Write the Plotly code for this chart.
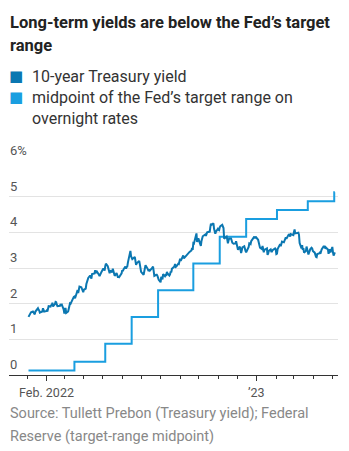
import pandas as pd
import plotly.graph_objects as go

# ---------------- data ----------------
# 10-year Treasury yield, daily closes grouped by month (trading days in order)
treasury_by_month = {
    "2022-01": [1.63, 1.66, 1.71, 1.73, 1.76, 1.78, 1.75, 1.74, 1.70, 1.78, 1.87, 1.83, 1.81, 1.75,
                1.77, 1.78, 1.87, 1.80, 1.78, 1.79],
    "2022-02": [1.81, 1.78, 1.84, 1.93, 1.92, 1.97, 1.94, 2.03, 1.92, 1.99, 2.05, 2.04, 1.97, 1.93,
                1.94, 1.99, 1.96, 1.97, 1.83],
    "2022-03": [1.72, 1.86, 1.86, 1.74, 1.78, 1.86, 1.95, 2.01, 2.00, 2.14, 2.16, 2.19, 2.20, 2.15,
                2.32, 2.38, 2.30, 2.37, 2.48, 2.46, 2.40, 2.35, 2.32],
    "2022-04": [2.39, 2.42, 2.55, 2.61, 2.66, 2.72, 2.79, 2.72, 2.70, 2.83, 2.85, 2.94, 2.85, 2.92,
                2.90, 2.81, 2.77, 2.82, 2.85, 2.89],
    "2022-05": [2.99, 2.97, 2.93, 3.05, 3.12, 3.05, 2.99, 2.91, 2.85, 2.93, 2.88, 2.98, 2.89, 2.84,
                2.78, 2.86, 2.76, 2.75, 2.75, 2.74, 2.85],
    "2022-06": [2.94, 2.91, 2.96, 3.04, 2.98, 3.03, 3.04, 3.15, 3.43, 3.48, 3.33, 3.28, 3.25, 3.31,
                3.16, 3.09, 3.13, 3.20, 3.20, 3.10, 2.98],
    "2022-07": [2.89, 2.81, 2.93, 3.01, 3.08, 2.99, 2.96, 2.91, 2.96, 2.93, 2.99, 3.03, 3.04, 2.91,
                2.78, 2.81, 2.81, 2.78, 2.68, 2.67],
    "2022-08": [2.60, 2.75, 2.73, 2.68, 2.83, 2.77, 2.80, 2.78, 2.89, 2.85, 2.79, 2.82, 2.90, 2.88,
                2.98, 3.03, 3.05, 3.11, 3.03, 3.04, 3.12, 3.11, 3.19],
    "2022-09": [3.26, 3.20, 3.35, 3.27, 3.29, 3.33, 3.37, 3.42, 3.41, 3.45, 3.45, 3.49, 3.56, 3.51,
                3.70, 3.69, 3.90, 3.97, 3.73, 3.78, 3.83],
    "2022-10": [3.67, 3.62, 3.76, 3.83, 3.89, 3.94, 3.90, 3.95, 4.00, 4.02, 4.00, 4.14, 4.24, 4.21,
                4.25, 4.10, 4.04, 3.96, 4.02, 4.10],
    "2022-11": [4.07, 4.06, 4.14, 4.17, 4.21, 4.14, 4.12, 3.82, 3.88, 3.80, 3.69, 3.77, 3.83, 3.83,
                3.76, 3.71, 3.68, 3.69, 3.75, 3.68],
    "2022-12": [3.53, 3.51, 3.60, 3.53, 3.42, 3.49, 3.58, 3.61, 3.50, 3.48, 3.44, 3.48, 3.59, 3.69,
                3.68, 3.67, 3.75, 3.84, 3.88, 3.83, 3.88],
    "2023-01": [3.79, 3.69, 3.71, 3.57, 3.53, 3.62, 3.54, 3.44, 3.51, 3.55, 3.37, 3.40, 3.48, 3.52,
                3.46, 3.46, 3.50, 3.52, 3.55, 3.52],
    "2023-02": [3.39, 3.40, 3.53, 3.64, 3.67, 3.61, 3.66, 3.74, 3.72, 3.77, 3.81, 3.86, 3.82, 3.95,
                3.92, 3.88, 3.95, 3.92, 3.92],
    "2023-03": [4.01, 4.08, 3.97, 3.98, 3.97, 3.99, 3.93, 3.70, 3.55, 3.64, 3.51, 3.56, 3.43, 3.48,
                3.60, 3.48, 3.38, 3.38, 3.53, 3.55, 3.57, 3.55, 3.48],
    "2023-04": [3.43, 3.35, 3.31, 3.30, 3.39, 3.41, 3.43, 3.40, 3.46, 3.52, 3.60, 3.59, 3.60, 3.54,
                3.57, 3.52, 3.40, 3.45, 3.53, 3.44],
    "2023-05": [3.59, 3.44, 3.35, 3.39, 3.44],
}
market_holidays = ["2022-01-17", "2022-02-21", "2022-04-15", "2022-05-30", "2022-06-20",
                   "2022-07-04", "2022-09-05", "2022-10-10", "2022-11-11", "2022-11-24",
                   "2022-12-26", "2023-01-02", "2023-01-16", "2023-02-20", "2023-05-29"]

# Fed target range midpoint: effective dates of changes and level
fed_dates = ["2022-01-03", "2022-03-17", "2022-05-05", "2022-06-16", "2022-07-28",
             "2022-09-22", "2022-11-03", "2022-12-15", "2023-02-02", "2023-03-23",
             "2023-05-04", "2023-05-05"]
fed_mid = [0.125, 0.375, 0.875, 1.625, 2.375, 3.125, 3.875, 4.375, 4.625, 4.875, 5.125, 5.125]

y_tickvals = [0, 1, 2, 3, 4, 5, 6]
y_ticktext = ["0", "1", "2", "3", "4", "5", "6%"]
x_label_dates = ["2022-02-01", "2023-01-01"]
x_label_text = ["Feb. 2022", "\u201923"]

title_lines = ["Long-term yields are below the Fed\u2019s target", "range"]
legend_names = [["10-year Treasury yield"],
                ["midpoint of the Fed\u2019s target range on", "overnight rates"]]
source_lines = ["Source: Tullett Prebon (Treasury yield); Federal",
                "Reserve (target-range midpoint)"]

# ---------------- build series ----------------
hol = set(pd.to_datetime(market_holidays))
t_dates, t_vals = [], []
for month, vals in treasury_by_month.items():
    start = pd.Timestamp(month + "-01")
    days = [d for d in pd.bdate_range(start, start + pd.offsets.MonthEnd(0)) if d not in hol]
    for d, v in zip(days, vals):
        t_dates.append(d)
        t_vals.append(v)

C_TSY = "#0b77b1"
C_FED = "#1a9ee0"
FONT = "Roboto, 'Open Sans', sans-serif"
TOP = 161      # top margin (px)
BOT = 76       # bottom margin (px)

fig = go.Figure()
fig.add_trace(go.Scatter(x=fed_dates, y=fed_mid, mode="lines", line_shape="hv",
                         line=dict(color=C_FED, width=2), hoverinfo="skip", showlegend=False))
fig.add_trace(go.Scatter(x=t_dates, y=t_vals, mode="lines",
                         line=dict(color=C_TSY, width=2), hoverinfo="skip", showlegend=False))

fig.update_layout(
    width=349, height=451,
    margin=dict(l=9, r=11, t=TOP, b=BOT),
    paper_bgcolor="white", plot_bgcolor="white",
    font=dict(family=FONT, color="#555"),
    showlegend=False,
)
fig.update_xaxes(
    type="date", range=["2021-12-03", "2023-05-10"],
    showgrid=False, zeroline=False,
    showline=True, linecolor="#333", linewidth=1,
    tickvals=x_label_dates, ticktext=["", ""],
    ticks="outside", ticklen=5, tickcolor="#333", tickwidth=1,
    minor=dict(dtick="M1", tick0="2022-01-01", ticks="outside", ticklen=3,
               tickcolor="#333", tickwidth=1, showgrid=False),
)
fig.update_yaxes(
    range=[0, 6], tickvals=y_tickvals, showticklabels=False,
    showgrid=True, gridcolor="#e3e3e3", gridwidth=1, zeroline=False, showline=False,
)


def top_text(text, x_px, y_center_px, size, color, bold=False):
    """place a text line with its vertical centre at y_center_px from page top"""
    fig.add_annotation(x=0, xref="paper", y=1, yref="paper",
                       text=("<b>%s</b>" % text) if bold else text, showarrow=False,
                       xanchor="left", yanchor="middle", xshift=x_px - 9,
                       yshift=TOP - y_center_px,
                       font=dict(size=size, color=color, family=FONT))


# y tick labels sitting above gridlines
for v, t in zip(y_tickvals, y_ticktext):
    fig.add_annotation(x=0, xref="paper", y=v, yref="y", text=t, showarrow=False,
                       xanchor="left", yanchor="bottom", yshift=1, xshift=-1,
                       font=dict(size=13, color="#555", family=FONT))
# x labels
for d, t in zip(x_label_dates, x_label_text):
    fig.add_annotation(x=d, xref="x", y=0, yref="paper", text=t, showarrow=False,
                       xanchor="center", yanchor="middle", yshift=-(392 - (451 - BOT)),
                       font=dict(size=12.5, color="#555", family=FONT))

# title
for i, line in enumerate(title_lines):
    top_text(line, 8, 22 + 23 * i, 16.5, "#222", bold=True)

# legend
row = 0
for names, col in zip(legend_names, [C_TSY, C_FED]):
    fig.add_annotation(x=0, xref="paper", y=1, yref="paper", text="\u25a0", showarrow=False,
                       xanchor="left", yanchor="middle", xshift=-2,
                       yshift=TOP - (76 + 21 * row),
                       font=dict(size=15, color=col, family="DejaVu Sans"))
    for line in names:
        top_text(line, 30, 76 + 21 * row, 16, "#333")
        row += 1

# source
for i, line in enumerate(source_lines):
    fig.add_annotation(x=0, xref="paper", y=0, yref="paper", text=line, showarrow=False,
                       xanchor="left", yanchor="middle", xshift=-1,
                       yshift=-(413 + 23 * i - (451 - BOT)),
                       font=dict(size=14.5, color="#888", family=FONT))

fig.write_html("out.html")
